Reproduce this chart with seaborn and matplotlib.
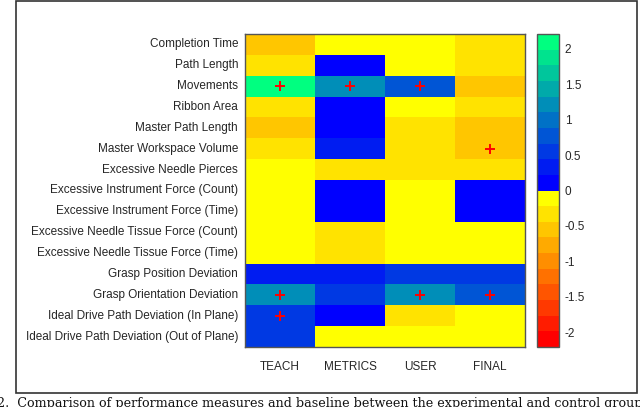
import numpy as np
import pandas as pd
import matplotlib
matplotlib.use("Agg")
import matplotlib.pyplot as plt
from matplotlib.colors import ListedColormap
from matplotlib.patches import Rectangle
import seaborn as sns

sns.set_style("white")
plt.rcParams['font.family'] = ['Liberation Sans', 'DejaVu Sans']

# Rows / columns of the comparison matrix
metrics = [
    "Completion Time", "Path Length", "Movements", "Ribbon Area",
    "Master Path Length", "Master Workspace Volume", "Excessive Needle Pierces",
    "Excessive Instrument Force (Count)", "Excessive Instrument Force (Time)",
    "Excessive Needle Tissue Force (Count)", "Excessive Needle Tissue Force (Time)",
    "Grasp Position Deviation", "Grasp Orientation Deviation",
    "Ideal Drive Path Deviation (In Plane)", "Ideal Drive Path Deviation (Out of Plane)",
]
groups = ["TEACH", "METRICS", "USER", "FINAL"]

# values (approximate)
teach   = [-0.55, -0.33, 2.21, -0.33, -0.55, -0.33, -0.11, -0.11, -0.11, -0.11, -0.11, 0.33, 1.22, 0.55, 0.55]
metrics_v = [-0.11, 0.11, 1.22, 0.11, 0.11, 0.33, -0.33, 0.11, 0.11, -0.33, -0.33, 0.33, 0.55, 0.11, -0.11]
user    = [-0.11, -0.11, 0.77, -0.11, -0.33, -0.33, -0.33, -0.11, -0.11, -0.11, -0.11, 0.55, 1.22, -0.33, -0.11]
final   = [-0.33, -0.33, -0.55, -0.33, -0.55, -0.55, -0.33, 0.11, 0.11, -0.11, -0.11, 0.55, 0.77, -0.11, -0.11]

# significant cells (marked with red +)
sig_metric = ["Movements", "Movements", "Movements", "Master Workspace Volume",
              "Grasp Orientation Deviation", "Grasp Orientation Deviation",
              "Grasp Orientation Deviation", "Ideal Drive Path Deviation (In Plane)"]
sig_group = ["TEACH", "METRICS", "USER", "FINAL", "TEACH", "USER", "FINAL", "TEACH"]

cbar_ticks = [2, 1.5, 1, 0.5, 0, -0.5, -1, -1.5, -2]

df = pd.DataFrame({"TEACH": teach, "METRICS": metrics_v, "USER": user, "FINAL": final},
                  index=metrics)

# autumn (red->yellow) below zero, winter (blue->green) above
autumn = [(1.0, j / 9, 0.0) for j in range(10)]
winter = [(0.0, k / 9, 1 - k / 18) for k in range(10)]
cmap = ListedColormap(autumn + winter)
vmax = 2.21

fig = plt.figure(figsize=(6.4, 4.07), dpi=100)
ax = fig.add_axes([245 / 640, 1 - 347 / 407, 280 / 640, 313 / 407])
cax = fig.add_axes([537 / 640, 1 - 347 / 407, 22 / 640, 313 / 407])

sns.heatmap(df, ax=ax, cmap=cmap, vmin=-vmax, vmax=vmax, cbar_ax=cax)

for s in ax.spines.values():
    s.set_visible(True)
    s.set_color("#555555")
    s.set_linewidth(1.0)

for m, g in zip(sig_metric, sig_group):
    ax.plot(groups.index(g) + 0.5, metrics.index(m) + 0.5, marker="+", color="red",
            markersize=7, mew=1.4, linestyle="none")

ax.tick_params(axis="both", length=0, labelsize=8.5, colors="#262626")
ax.tick_params(axis="x", pad=10)
ax.tick_params(axis="y", pad=5)
ax.set_yticklabels(metrics, rotation=0)
ax.set_xticklabels(groups, rotation=0)
ax.set_xlabel("")
ax.set_ylabel("")

cbar = ax.collections[0].colorbar
cbar.set_ticks(cbar_ticks)
cbar.set_ticklabels([str(t).replace(".0", "") if t != 0 else "0" for t in cbar_ticks])
cbar.ax.tick_params(length=0, labelsize=8.5, colors="#262626", pad=4)
cbar.outline.set_edgecolor("#555555")
cbar.outline.set_linewidth(1.0)

# figure frame and caption (cut off at the bottom edge, as in the source)
fig.patches.append(Rectangle((16 / 640, 1 - 393 / 407), 621 / 640, 392 / 407,
                             transform=fig.transFigure, fill=False,
                             edgecolor="#333333", linewidth=1.2))
fig.text(-0.004, 1 - 397 / 407,
         "2.  Comparison of performance measures and baseline between the experimental and control groups.  E",
         family="DejaVu Serif", fontsize=9.2, va="top", ha="left", color="#111111")

fig.savefig("out.png", dpi=100)
